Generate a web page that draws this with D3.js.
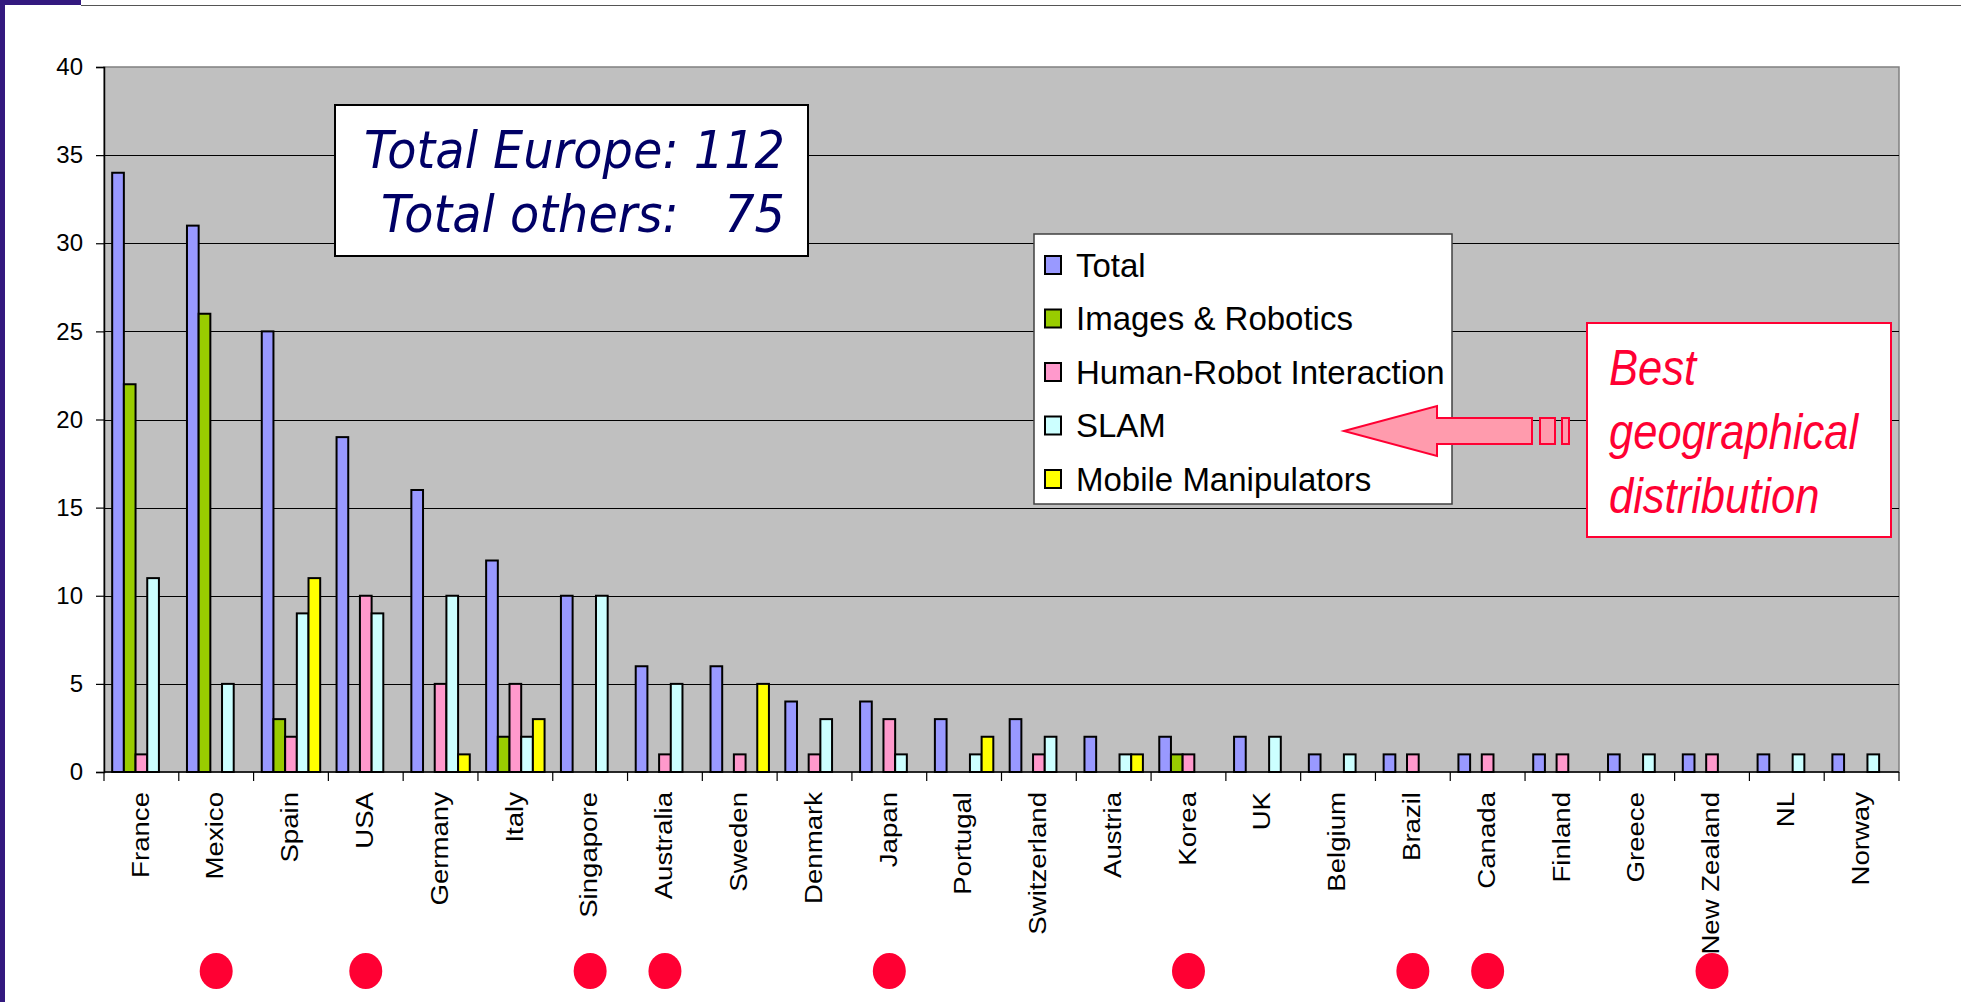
<!DOCTYPE html>
<html>
<head>
<meta charset="utf-8">
<script src="https://cdn.jsdelivr.net/npm/d3@7"></script>
<style>
  body { margin: 0; background: #fff; }
  svg { display: block; font-family: Arial, "Liberation Sans", sans-serif; }
</style>
</head>
<body>
<svg id="chart" width="1961" height="1002"></svg>
<script>
// data
var countries = ['France', 'Mexico', 'Spain', 'USA', 'Germany', 'Italy', 'Singapore', 'Australia',
	'Sweden', 'Denmark', 'Japan', 'Portugal', 'Switzerland', 'Austria', 'Korea', 'UK',
	'Belgium', 'Brazil', 'Canada', 'Finland', 'Greece', 'New Zealand', 'NL', 'Norway'];
var total          = [34, 31, 25, 19, 16, 12, 10, 6, 6, 4, 4, 3, 3, 2, 2, 2, 1, 1, 1, 1, 1, 1, 1, 1];
var imagesRobotics = [22, 26, 3, 0, 0, 2, 0, 0, 0, 0, 0, 0, 0, 0, 1, 0, 0, 0, 0, 0, 0, 0, 0, 0];
var humanRobot     = [1, 0, 2, 10, 5, 5, 0, 1, 1, 1, 3, 0, 1, 0, 1, 0, 0, 1, 1, 1, 0, 1, 0, 0];
var slam           = [11, 5, 9, 9, 10, 2, 10, 5, 0, 3, 1, 1, 2, 1, 0, 2, 1, 0, 0, 0, 1, 0, 1, 1];
var mobileManip    = [0, 0, 11, 0, 1, 3, 0, 0, 5, 0, 0, 2, 0, 1, 0, 0, 0, 0, 0, 0, 0, 0, 0, 0];
var seriesNames = ['Total', 'Images & Robotics', 'Human-Robot Interaction', 'SLAM', 'Mobile Manipulators'];
var seriesColors = ['#9999ff', '#99cc00', '#ff99cc', '#ccffff', '#ffff00'];
var nonEurope = ['Mexico', 'USA', 'Singapore', 'Australia', 'Japan', 'Korea', 'Brazil', 'Canada', 'New Zealand'];
var totalEurope = 112;
var totalOthers = 75;

var seriesValues = [total, imagesRobotics, humanRobot, slam, mobileManip];

var svg = d3.select('#chart');

/* slide frame */
svg.append('rect').attr('x', 0).attr('y', 0).attr('width', 5).attr('height', 1002).attr('fill', '#33197f');
svg.append('rect').attr('x', 0).attr('y', 0).attr('width', 81).attr('height', 5).attr('fill', '#33197f');
svg.append('line').attr('x1', 81).attr('x2', 1961).attr('y1', 5.5).attr('y2', 5.5)
	.attr('stroke', '#555').attr('stroke-width', 1);

// plot area bounds (don't call these top/left: window.top is taken)
var plotLeft = 104, plotRight = 1899, plotTop = 67, plotBottom = 772;

var x0 = d3.scaleBand().domain(countries).range([plotLeft, plotRight]);
var x1 = d3.scaleBand().domain(seriesNames).range([0, x0.bandwidth()]).paddingOuter(0.7);
var y = d3.scaleLinear().domain([0, 40]).range([plotBottom, plotTop]);

/* plot area */
svg.append('rect')
	.attr('x', plotLeft).attr('y', plotTop)
	.attr('width', plotRight - plotLeft).attr('height', plotBottom - plotTop)
	.attr('fill', '#c0c0c0').attr('stroke', '#808080').attr('stroke-width', 1.5);

svg.append('g').selectAll('line')
	.data(d3.range(5, 40, 5))
	.enter().append('line')
	.attr('x1', plotLeft).attr('x2', plotRight)
	.attr('y1', function(d) { return Math.round(y(d)) + 0.5; })
	.attr('y2', function(d) { return Math.round(y(d)) + 0.5; })
	.attr('stroke', '#000').attr('stroke-width', 1.2);

/* y axis */
var yAxis = svg.append('g')
	.attr('transform', 'translate(' + plotLeft + ',0)')
	.call(d3.axisLeft(y).tickValues(d3.range(0, 41, 5)).tickSize(8).tickPadding(13));
yAxis.select('.domain').attr('stroke', '#000').attr('stroke-width', 1.5);
yAxis.selectAll('.tick line').attr('stroke', '#000').attr('stroke-width', 1.2);
yAxis.selectAll('.tick text')
	.attr('font-family', 'Arial, "Liberation Sans", sans-serif')
	.attr('font-size', 24).attr('fill', '#000');

/* bars */
var groups = svg.append('g').selectAll('g')
	.data(countries)
	.enter().append('g')
	.attr('transform', function(d) { return 'translate(' + x0(d) + ',0)'; });

groups.selectAll('rect')
	.data(function(d, i) {
		return seriesNames.map(function(s, k) {
			return { series: s, color: seriesColors[k], value: seriesValues[k][i] };
		}).filter(function(e) { return e.value > 0; });
	})
	.enter().append('rect')
	.attr('x', function(d) { return x1(d.series); })
	.attr('width', x1.bandwidth())
	.attr('y', function(d) { return y(d.value); })
	.attr('height', function(d) { return y(0) - y(d.value); })
	.attr('fill', function(d) { return d.color; })
	.attr('stroke', '#000').attr('stroke-width', 2);

/* x axis: baseline, ticks between categories, rotated labels */
svg.append('line')
	.attr('x1', plotLeft).attr('x2', plotRight).attr('y1', plotBottom).attr('y2', plotBottom)
	.attr('stroke', '#000').attr('stroke-width', 1.5);

svg.append('g').selectAll('line')
	.data(d3.range(countries.length + 1))
	.enter().append('line')
	.attr('x1', function(i) { return plotLeft + i * x0.step(); })
	.attr('x2', function(i) { return plotLeft + i * x0.step(); })
	.attr('y1', plotBottom).attr('y2', plotBottom + 9)
	.attr('stroke', '#000').attr('stroke-width', 1.2);

svg.append('g').selectAll('text')
	.data(countries)
	.enter().append('text')
	.attr('transform', function(d) {
		return 'translate(' + (x0(d) + x0.bandwidth() / 2) + ',792) rotate(-90) scale(1.15,1)';
	})
	.attr('dy', '0.3em')
	.attr('text-anchor', 'end')
	.attr('font-size', 24)
	.attr('fill', '#000')
	.text(function(d) { return d; });

/* non-European markers */
svg.append('g').selectAll('ellipse')
	.data(nonEurope)
	.enter().append('ellipse')
	.attr('cx', function(d) { return x0(d) + x0.bandwidth() / 2; })
	.attr('cy', 971)
	.attr('rx', 16.5).attr('ry', 18)
	.attr('fill', '#ff0033');

/* totals box */
svg.append('rect')
	.attr('x', 335).attr('y', 105).attr('width', 473).attr('height', 151)
	.attr('fill', '#fff').attr('stroke', '#000').attr('stroke-width', 2);

var totals = svg.append('g')
	.attr('font-family', '"DejaVu Sans", Verdana, sans-serif')
	.attr('font-style', 'italic')
	.attr('font-size', 52)
	.attr('fill', '#000066')
	.attr('text-anchor', 'end');
totals.append('text')
	.attr('transform', 'translate(785,168) scale(0.92,1)')
	.text('Total Europe: ' + totalEurope);
totals.append('text')
	.attr('transform', 'translate(785,232) scale(0.92,1)')
	.style('white-space', 'pre')
	.text('Total others:   ' + totalOthers);

/* legend */
var legend = svg.append('g');
legend.append('rect')
	.attr('x', 1034).attr('y', 234).attr('width', 418).attr('height', 270)
	.attr('fill', '#fff').attr('stroke', '#404040').attr('stroke-width', 1.5);

var items = legend.selectAll('g.item')
	.data(seriesNames)
	.enter().append('g')
	.attr('class', 'item')
	.attr('transform', function(d, i) { return 'translate(1045,' + (265 + i * 53.5) + ')'; });
items.append('rect')
	.attr('x', 0).attr('y', -9).attr('width', 16).attr('height', 18)
	.attr('fill', function(d, i) { return seriesColors[i]; })
	.attr('stroke', '#000').attr('stroke-width', 2);
items.append('text')
	.attr('x', 31).attr('dy', '0.36em')
	.attr('font-size', 33)
	.attr('fill', '#000')
	.text(function(d) { return d; });

/* arrow pointing at the legend */
svg.append('path')
	.attr('d', 'M1344,431 L1437,406 L1437,418 L1532,418 L1532,444 L1437,444 L1437,456 Z')
	.attr('fill', '#ff9bad').attr('stroke', '#ff0033').attr('stroke-width', 2);
svg.append('rect').attr('x', 1540).attr('y', 418).attr('width', 15).attr('height', 26)
	.attr('fill', '#ff9bad').attr('stroke', '#ff0033').attr('stroke-width', 2);
svg.append('rect').attr('x', 1562).attr('y', 418).attr('width', 7).attr('height', 26)
	.attr('fill', '#ff9bad').attr('stroke', '#ff0033').attr('stroke-width', 2);

/* callout box */
svg.append('rect')
	.attr('x', 1587).attr('y', 323).attr('width', 304).attr('height', 214)
	.attr('fill', '#fff').attr('stroke', '#ff0033').attr('stroke-width', 2);
svg.append('g')
	.attr('font-style', 'italic')
	.attr('font-size', 50)
	.attr('fill', '#ff0033')
	.selectAll('text')
	.data(['Best', 'geographical', 'distribution'])
	.enter().append('text')
	.attr('transform', function(d, i) { return 'translate(1609,' + [385, 449, 513][i] + ') scale(0.87,1)'; })
	.text(function(d) { return d; });
</script>
</body>
</html>
